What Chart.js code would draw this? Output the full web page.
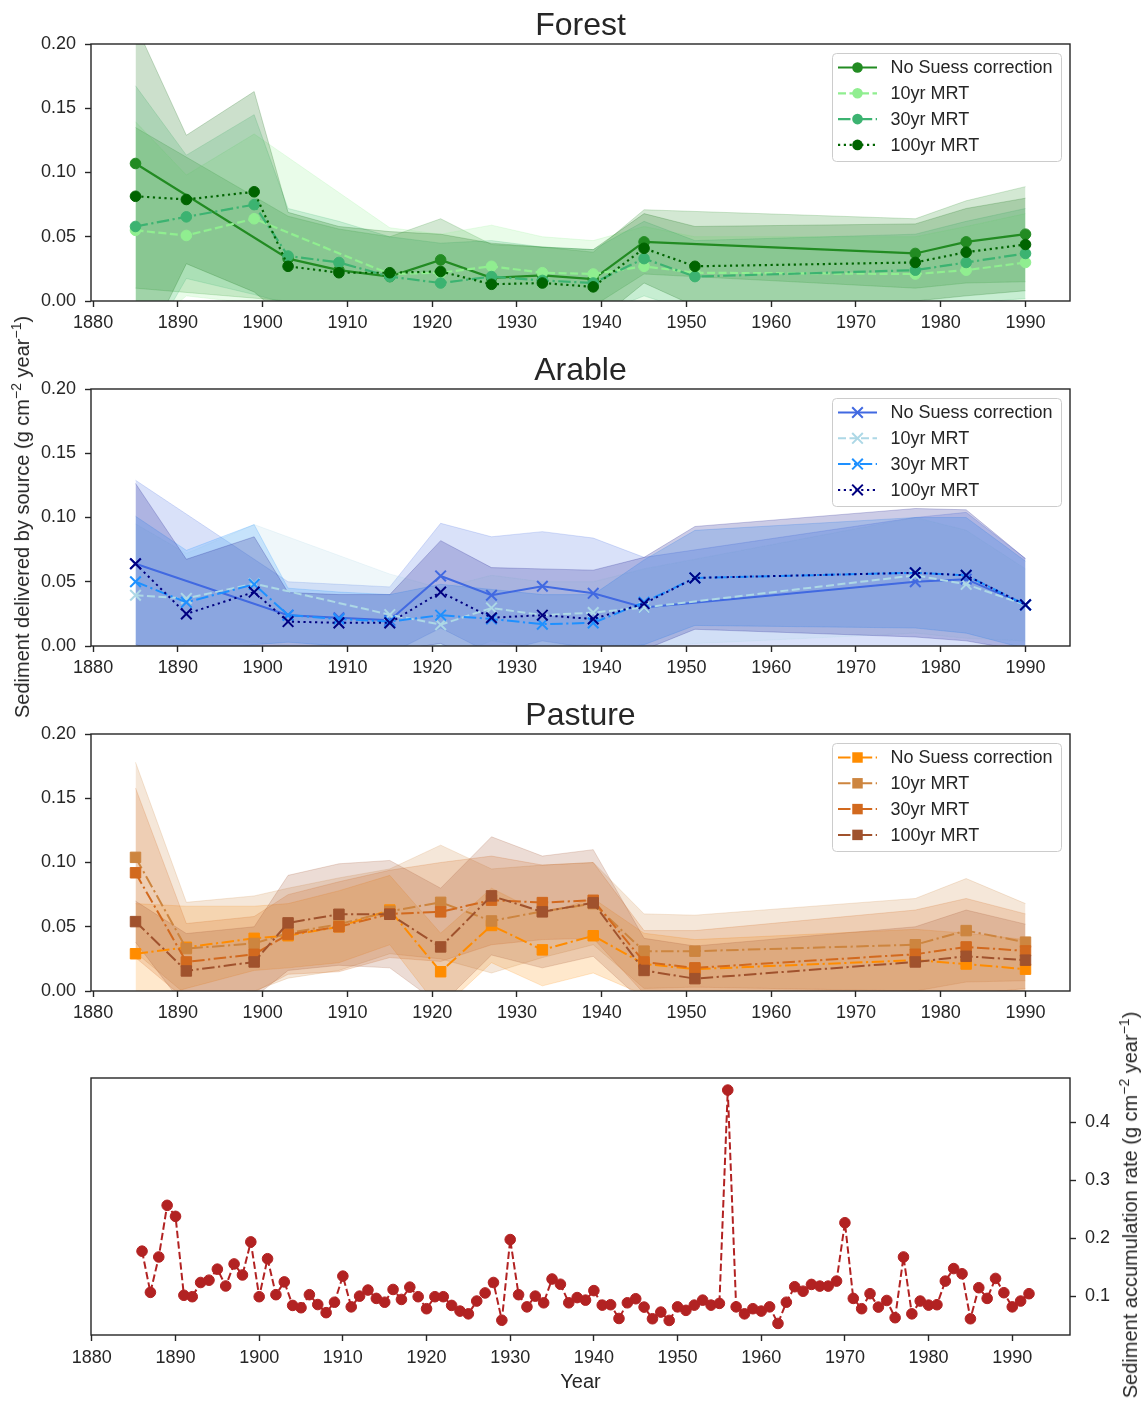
<!DOCTYPE html>
<html>
<head>
<meta charset="utf-8">
<title>Sediment sources and accumulation rate</title>
<script src="https://cdn.jsdelivr.net/npm/chart.js@4.4.1/dist/chart.umd.min.js"></script>
<style>
  html, body { margin: 0; padding: 0; background: #ffffff; }
  #wrap { position: relative; width: 1146px; height: 1403px; overflow: hidden;
          font-family: "Liberation Sans", Arial, sans-serif; color: #262626; }
  #wrap canvas { position: absolute; left: 0; }
  .axlab { position: absolute; white-space: nowrap; font-size: 20px; line-height: 22px;
           transform: translate(-50%, -50%) rotate(-90deg); }
  .axlab sup { font-size: 14px; line-height: 0; vertical-align: 8px; }
</style>
</head>
<body>
<div id="wrap">
  <canvas id="forestChart" width="1146" height="340" style="top:0px"></canvas>
  <canvas id="arableChart" width="1146" height="340" style="top:345px"></canvas>
  <canvas id="pastureChart" width="1146" height="340" style="top:690px"></canvas>
  <canvas id="rateChart" width="1146" height="363" style="top:1040px"></canvas>
  <div class="axlab" style="left:22px; top:517px;">Sediment delivered by source (g cm<sup>−2</sup> year<sup>−1</sup>)</div>
  <div class="axlab" style="left:1130px; top:1205px;">Sediment accumulation rate (g cm<sup>−2</sup> year<sup>−1</sup>)</div>
</div>

<script>
// ---------- sampling years and tick labels ----------
const YEARS = [1885, 1891, 1899, 1903, 1909, 1915, 1921, 1927, 1933, 1939, 1945, 1951, 1977, 1983, 1990];
const SERIES_NAMES = ['No Suess correction', '10yr MRT', '30yr MRT', '100yr MRT'];
const X_TICKS = [1880, 1890, 1900, 1910, 1920, 1930, 1940, 1950, 1960, 1970, 1980, 1990];
const SOURCE_TICKS = [0, 0.05, 0.10, 0.15, 0.20];
const RATE_TICKS = [0.1, 0.2, 0.3, 0.4];

// ---------- Forest (mean, upper and lower bound) ----------
const forestNoSuess   = [0.107, null, null, 0.033, 0.024, 0.019, 0.032, 0.018, 0.020, 0.017, 0.046, null, 0.037, 0.046, 0.052];
const forestNoSuessHi = [0.135, null, null, 0.066, 0.056, 0.050, 0.064, 0.044, 0.042, 0.038, 0.071, null, 0.064, 0.078, 0.089];
const forestNoSuessLo = [0.010, null, null, 0.000, -0.008, -0.012, 0.000, -0.008, -0.002, -0.004, 0.021, null, 0.010, 0.014, 0.015];
const forest10   = [0.055, 0.051, 0.064, null, null, 0.021, 0.022, 0.027, 0.022, 0.021, 0.027, 0.022, 0.021, 0.024, 0.030];
const forest10Hi = [0.1395, 0.098, 0.130, null, null, 0.057, 0.052, 0.059, 0.050, 0.047, 0.058, 0.050, 0.050, 0.058, 0.068];
const forest10Lo = [-0.030, 0.004, -0.002, null, null, -0.015, -0.008, -0.005, -0.006, -0.005, -0.004, -0.006, -0.008, -0.010, -0.008];
const forest30   = [0.058, 0.0655, 0.075, 0.035, 0.030, 0.019, 0.014, 0.019, 0.016, 0.014, 0.033, 0.019, 0.024, 0.030, 0.037];
const forest30Hi = [0.1675, 0.1135, 0.145, 0.072, 0.062, 0.050, 0.045, 0.047, 0.042, 0.040, 0.062, 0.047, 0.052, 0.062, 0.072];
const forest30Lo = [-0.051, 0.0175, 0.005, -0.002, -0.002, -0.012, -0.017, -0.009, -0.010, -0.012, 0.004, -0.009, -0.004, -0.002, 0.002];
const forest100   = [0.0815, 0.079, 0.085, 0.027, 0.022, 0.022, 0.023, 0.013, 0.014, 0.011, 0.041, 0.027, 0.030, 0.038, 0.044];
const forest100Hi = [0.215, 0.129, 0.163, 0.069, 0.058, 0.054, 0.052, 0.045, 0.042, 0.040, 0.068, 0.058, 0.060, 0.072, 0.080];
const forest100Lo = [-0.052, 0.029, 0.007, -0.015, -0.014, -0.010, -0.006, -0.019, -0.014, -0.018, 0.014, -0.004, 0.000, 0.004, 0.008];

// ---------- Arable ----------
const arableNoSuess   = [0.064, null, null, 0.024, 0.022, 0.020, 0.0545, 0.0395, 0.0465, 0.041, 0.030, null, 0.050, 0.052, 0.032];
const arableNoSuessHi = [0.129, null, null, 0.050, 0.048, 0.046, 0.0955, 0.085, 0.089, 0.084, 0.069, null, 0.100, 0.104, 0.068];
const arableNoSuessLo = [-0.001, null, null, -0.002, -0.004, -0.006, 0.014, -0.006, 0.004, -0.002, -0.009, null, 0.000, 0.000, -0.004];
const arable10   = [0.0395, 0.037, 0.0486, null, null, 0.0244, 0.0166, 0.0296, 0.024, 0.026, 0.030, null, 0.055, 0.048, 0.032];
const arable10Hi = [0.095, 0.072, 0.0945, null, null, 0.056, 0.045, 0.055, 0.050, 0.050, 0.060, null, 0.100, 0.090, 0.060];
const arable10Lo = [-0.016, 0.002, 0.003, null, null, -0.007, -0.012, 0.004, -0.002, 0.002, 0.000, null, 0.010, 0.006, 0.004];
const arable30   = [0.050, 0.034, 0.048, 0.024, 0.021, 0.019, 0.024, 0.021, 0.017, 0.018, 0.034, 0.053, 0.057, 0.055, 0.032];
const arable30Hi = [0.101, 0.0745, 0.0945, 0.045, 0.042, 0.040, 0.048, 0.044, 0.040, 0.040, 0.067, 0.090, 0.100, 0.100, 0.066];
const arable30Lo = [-0.001, -0.007, 0.001, 0.003, 0.000, -0.002, 0.000, -0.002, -0.006, -0.004, 0.001, 0.016, 0.014, 0.010, -0.002];
const arable100   = [0.064, 0.025, 0.042, 0.019, 0.018, 0.018, 0.042, 0.022, 0.024, 0.021, 0.033, 0.053, 0.057, 0.055, 0.032];
const arable100Hi = [0.1265, 0.0675, 0.085, 0.0416, 0.040, 0.040, 0.082, 0.061, 0.060, 0.059, 0.069, 0.093, 0.107, 0.106, 0.068];
const arable100Lo = [0.0015, -0.018, -0.001, -0.004, -0.004, -0.004, 0.002, -0.017, -0.012, -0.017, -0.003, 0.013, 0.007, 0.004, -0.004];

// ---------- Pasture ----------
const pastureNoSuess   = [0.029, 0.034, 0.041, 0.043, 0.050, 0.063, 0.015, 0.051, 0.032, 0.043, 0.021, 0.017, 0.024, 0.021, 0.017];
const pastureNoSuessHi = [0.068, 0.066, 0.066, 0.068, 0.078, 0.090, 0.045, 0.080, 0.060, 0.072, 0.045, 0.040, 0.048, 0.045, 0.040];
const pastureNoSuessLo = [-0.010, 0.002, 0.016, 0.018, 0.022, 0.036, -0.015, 0.022, 0.004, 0.014, -0.003, -0.006, 0.000, -0.003, -0.006];
const pasture10   = [0.104, 0.033, 0.037, 0.045, 0.052, 0.062, 0.069, 0.0545, 0.062, 0.068, 0.031, 0.031, 0.036, 0.047, 0.038];
const pasture10Hi = [0.178, 0.069, 0.074, 0.080, 0.088, 0.095, 0.1135, 0.095, 0.098, 0.100, 0.060, 0.059, 0.072, 0.0875, 0.068];
const pasture10Lo = [0.030, -0.003, 0.000, 0.010, 0.016, 0.029, 0.025, 0.014, 0.026, 0.036, 0.002, 0.003, 0.000, 0.007, 0.008];
const pasture30   = [0.092, 0.0226, 0.0286, 0.044, 0.050, 0.060, 0.0616, 0.0707, 0.0688, 0.0706, 0.0226, 0.018, 0.0286, 0.0343, 0.0312];
const pasture30Hi = [0.158, 0.0525, 0.058, 0.075, 0.085, 0.094, 0.100, 0.105, 0.098, 0.100, 0.047, 0.047, 0.063, 0.072, 0.060];
const pasture30Lo = [0.026, -0.007, -0.001, 0.013, 0.015, 0.026, 0.023, 0.036, 0.040, 0.041, -0.002, -0.011, -0.006, -0.003, 0.002];
const pasture100   = [0.054, 0.0156, 0.0226, 0.053, 0.0597, 0.0597, 0.0343, 0.074, 0.0616, 0.0686, 0.016, 0.0096, 0.0226, 0.027, 0.024];
const pasture100Hi = [0.070, 0.0447, 0.050, 0.090, 0.099, 0.1016, 0.080, 0.120, 0.105, 0.110, 0.041, 0.035, 0.050, 0.063, 0.052];
const pasture100Lo = [0.038, -0.014, -0.005, 0.016, 0.020, 0.018, -0.011, 0.028, 0.018, 0.027, -0.009, -0.016, -0.005, -0.009, -0.004];

// ---------- annual sediment accumulation rate, 1886 onwards ----------
const RATE_FIRST_YEAR = 1886;
const accumulationRate = [
  0.178, 0.107, 0.168, 0.257, 0.238, 0.102, 0.0995, 0.124, 0.128, 0.147,   // 1886-1895
  0.118, 0.156, 0.137, 0.194, 0.0995, 0.165, 0.103, 0.125, 0.0845, 0.0805, // 1896-1905
  0.103, 0.086, 0.072, 0.090, 0.135, 0.082, 0.1005, 0.111, 0.0966, 0.090,  // 1906-1915
  0.112, 0.0948, 0.116, 0.0995, 0.0788, 0.0995, 0.0995, 0.0845, 0.0747, 0.070, // 1916-1925
  0.092, 0.106, 0.124, 0.059, 0.198, 0.103, 0.082, 0.1005, 0.089, 0.130,   // 1926-1935
  0.121, 0.089, 0.098, 0.0936, 0.110, 0.085, 0.0857, 0.062, 0.089, 0.096,  // 1936-1945
  0.0816, 0.0615, 0.073, 0.0586, 0.082, 0.076, 0.085, 0.0936, 0.085, 0.088, // 1946-1955
  0.4557, 0.082, 0.070, 0.0788, 0.0747, 0.082, 0.0534, 0.090, 0.1167, 0.109, // 1956-1965
  0.1207, 0.1178, 0.1178, 0.1264, 0.227, 0.0966, 0.0788, 0.1047, 0.0816, 0.093, // 1966-1975
  0.0633, 0.168, 0.070, 0.092, 0.085, 0.0857, 0.1264, 0.148, 0.139, 0.0615, // 1976-1985
  0.115, 0.0966, 0.131, 0.1064, 0.082, 0.092, 0.1047                       // 1986-1992
];

// ---------- styling ----------
const INK = '#262626';
const FONT = '"Liberation Sans", Arial, sans-serif';
Chart.defaults.font.family = FONT;
Chart.defaults.color = INK;
Chart.defaults.animation = false;

const DASHED = [8, 3.5];
const DASHDOT = [12.5, 3.5, 2.2, 3.5];
const DOTTED = [2.2, 3.6];

const forestStyles = [
  { color: '#228B22', dash: [], marker: 'circle', r: 5.3, lw: 2.2 },
  { color: '#90EE90', dash: DASHED, marker: 'circle', r: 5.3, lw: 2.2 },
  { color: '#3CB371', dash: DASHDOT, marker: 'circle', r: 5.3, lw: 2.2 },
  { color: '#006400', dash: DOTTED, marker: 'circle', r: 5.3, lw: 2.2 }
];
const arableStyles = [
  { color: '#4169E1', dash: [], marker: 'crossRot', r: 7.5, lw: 2 },
  { color: '#ADD8E6', dash: DASHED, marker: 'crossRot', r: 7.5, lw: 2 },
  { color: '#1E90FF', dash: DASHDOT, marker: 'crossRot', r: 7.5, lw: 2 },
  { color: '#000080', dash: DOTTED, marker: 'crossRot', r: 7.5, lw: 2 }
];
const pastureStyles = [
  { color: '#FF8C00', dash: DASHDOT, marker: 'rect', r: 7.4, lw: 2 },
  { color: '#CD853F', dash: DASHDOT, marker: 'rect', r: 7.4, lw: 2 },
  { color: '#D2691E', dash: DASHDOT, marker: 'rect', r: 7.4, lw: 2 },
  { color: '#A0522D', dash: DASHDOT, marker: 'rect', r: 7.4, lw: 2 }
];

function rgba(hex, a) {
  const n = parseInt(hex.slice(1), 16);
  return `rgba(${(n >> 16) & 255}, ${(n >> 8) & 255}, ${n & 255}, ${a})`;
}

function toPoints(vals) {
  return YEARS.map((x, i) => ({ x, y: vals[i] })).filter(p => p.y !== null);
}

function drawMarker(ctx, kind, x, y, r, color) {
  ctx.save();
  ctx.setLineDash([]);
  ctx.fillStyle = color;
  ctx.strokeStyle = color;
  if (kind === 'circle') {
    ctx.beginPath(); ctx.arc(x, y, r, 0, Math.PI * 2); ctx.fill();
  } else if (kind === 'rect') {
    const h = r * Math.SQRT1_2;
    ctx.fillRect(x - h, y - h, 2 * h, 2 * h);
  } else {
    const h = r * Math.SQRT1_2;
    ctx.lineWidth = 2;
    ctx.beginPath();
    ctx.moveTo(x - h, y - h); ctx.lineTo(x + h, y + h);
    ctx.moveTo(x + h, y - h); ctx.lineTo(x - h, y + h);
    ctx.stroke();
  }
  ctx.restore();
}

// frame round the plot area and the panel title
function framePlugin(title) {
  return {
    id: 'frameAndTitle',
    afterDatasetsDraw(chart) {
      const { ctx, chartArea: a } = chart;
      ctx.save();
      ctx.setLineDash([]);
      ctx.strokeStyle = INK;
      ctx.lineWidth = 1.4;
      ctx.strokeRect(a.left, a.top, a.right - a.left, a.bottom - a.top);
      if (title) {
        ctx.fillStyle = INK;
        ctx.font = `32px ${FONT}`;
        ctx.textAlign = 'center';
        ctx.textBaseline = 'alphabetic';
        ctx.fillText(title, (a.left + a.right) / 2, a.top - 9);
      }
      ctx.restore();
    }
  };
}

// boxed legend in the upper right corner of the plot area
function legendPlugin(styles) {
  return {
    id: 'boxLegend',
    afterDraw(chart) {
      const { ctx, chartArea: a } = chart;
      const bw = 229, bh = 108;
      const bx = a.right - 9 - bw, by = a.top + 9;
      ctx.save();
      ctx.beginPath();
      ctx.roundRect(bx + 0.5, by + 0.5, bw, bh, 4);
      ctx.fillStyle = 'rgba(255,255,255,0.8)';
      ctx.fill();
      ctx.strokeStyle = '#cccccc';
      ctx.lineWidth = 1;
      ctx.stroke();
      SERIES_NAMES.forEach((name, i) => {
        const st = styles[i];
        const y = by + 14.5 + i * 25.8;
        ctx.strokeStyle = st.color;
        ctx.lineWidth = st.lw;
        ctx.setLineDash(st.dash);
        ctx.beginPath();
        ctx.moveTo(bx + 6, y);
        ctx.lineTo(bx + 45, y);
        ctx.stroke();
        drawMarker(ctx, st.marker, bx + 25.5, y, st.r, st.color);
        ctx.setLineDash([]);
        ctx.fillStyle = INK;
        ctx.font = `18px ${FONT}`;
        ctx.textAlign = 'left';
        ctx.textBaseline = 'middle';
        ctx.fillText(name, bx + 58.5, y + 1);
      });
      ctx.restore();
    }
  };
}

function tickGrid() {
  return { display: true, drawOnChartArea: false, drawTicks: true, tickLength: 6, tickColor: INK, tickWidth: 1.4 };
}

function sourcePanel(canvasId, title, styles, means, highs, lows) {
  const datasets = [];
  // uncertainty bands first, drawn underneath
  styles.forEach((st, i) => {
    const col = rgba(st.color, 0.2);
    datasets.push({
      data: toPoints(highs[i]), borderColor: col, borderWidth: 1, backgroundColor: col,
      fill: '+1', pointRadius: 0, tension: 0, order: 20 - i
    });
    datasets.push({
      data: toPoints(lows[i]), borderColor: col, borderWidth: 1, backgroundColor: col,
      fill: false, pointRadius: 0, tension: 0, order: 20 - i
    });
  });
  // mean lines with markers
  styles.forEach((st, i) => {
    datasets.push({
      label: SERIES_NAMES[i],
      data: toPoints(means[i]), borderColor: st.color, borderWidth: st.lw, borderDash: st.dash,
      fill: false, tension: 0, pointStyle: st.marker, pointRadius: st.r,
      pointBackgroundColor: st.color, pointBorderColor: st.color,
      pointBorderWidth: st.marker === 'crossRot' ? 2 : 1, order: 10 - i
    });
  });

  return new Chart(document.getElementById(canvasId), {
    type: 'line',
    data: { datasets },
    options: {
      responsive: false,
      animation: false,
      events: [],
      layout: { padding: { top: 44, right: 76, bottom: 0, left: 0 } },
      plugins: { legend: { display: false }, title: { display: false }, tooltip: { enabled: false } },
      scales: {
        x: {
          type: 'linear', min: 1879.75, max: 1995.25,
          afterBuildTicks: s => { s.ticks = X_TICKS.map(v => ({ value: v })); },
          afterFit: s => { s.height = 39; },
          ticks: { font: { size: 18 }, color: INK, padding: 5, maxRotation: 0, autoSkip: false,
                   callback: v => String(v) },
          grid: tickGrid(),
          border: { display: false }
        },
        y: {
          type: 'linear', position: 'left', min: 0, max: 0.2,
          afterBuildTicks: s => { s.ticks = SOURCE_TICKS.map(v => ({ value: v })); },
          afterFit: s => { s.width = 91; },
          ticks: { font: { size: 18 }, color: INK, padding: 9, callback: v => Number(v).toFixed(2) },
          grid: tickGrid(),
          border: { display: false }
        }
      }
    },
    plugins: [framePlugin(title), legendPlugin(styles)]
  });
}

sourcePanel('forestChart', 'Forest', forestStyles,
  [forestNoSuess, forest10, forest30, forest100],
  [forestNoSuessHi, forest10Hi, forest30Hi, forest100Hi],
  [forestNoSuessLo, forest10Lo, forest30Lo, forest100Lo]);

sourcePanel('arableChart', 'Arable', arableStyles,
  [arableNoSuess, arable10, arable30, arable100],
  [arableNoSuessHi, arable10Hi, arable30Hi, arable100Hi],
  [arableNoSuessLo, arable10Lo, arable30Lo, arable100Lo]);

sourcePanel('pastureChart', 'Pasture', pastureStyles,
  [pastureNoSuess, pasture10, pasture30, pasture100],
  [pastureNoSuessHi, pasture10Hi, pasture30Hi, pasture100Hi],
  [pastureNoSuessLo, pasture10Lo, pasture30Lo, pasture100Lo]);

// accumulation rate panel
new Chart(document.getElementById('rateChart'), {
  type: 'line',
  data: {
    datasets: [{
      data: accumulationRate.map((v, i) => ({ x: RATE_FIRST_YEAR + i, y: v })),
      borderColor: '#B22222', borderWidth: 2, borderDash: [7.4, 3.2], fill: false, tension: 0,
      pointStyle: 'circle', pointRadius: 5.3, pointBackgroundColor: '#B22222',
      pointBorderColor: '#B22222', pointBorderWidth: 1
    }]
  },
  options: {
    responsive: false,
    animation: false,
    events: [],
    layout: { padding: { top: 38, right: 0, bottom: 0, left: 91 } },
    plugins: { legend: { display: false }, title: { display: false }, tooltip: { enabled: false } },
    scales: {
      x: {
        type: 'linear', min: 1879.9, max: 1996.9,
        afterBuildTicks: s => { s.ticks = X_TICKS.map(v => ({ value: v })); },
        afterFit: s => { s.height = 68; },
        ticks: { font: { size: 18 }, color: INK, padding: 6, maxRotation: 0, autoSkip: false,
                 callback: v => String(v) },
        title: { display: true, text: 'Year', font: { size: 20 }, color: INK, padding: { top: 0, bottom: 9 } },
        grid: tickGrid(),
        border: { display: false }
      },
      y: {
        type: 'linear', position: 'right', min: 0.0335, max: 0.4765,
        afterBuildTicks: s => { s.ticks = RATE_TICKS.map(v => ({ value: v })); },
        afterFit: s => { s.width = 76; },
        ticks: { font: { size: 18 }, color: INK, padding: 9, callback: v => Number(v).toFixed(1) },
        grid: tickGrid(),
        border: { display: false }
      }
    }
  },
  plugins: [framePlugin(null)]
});
</script>
</body>
</html>
